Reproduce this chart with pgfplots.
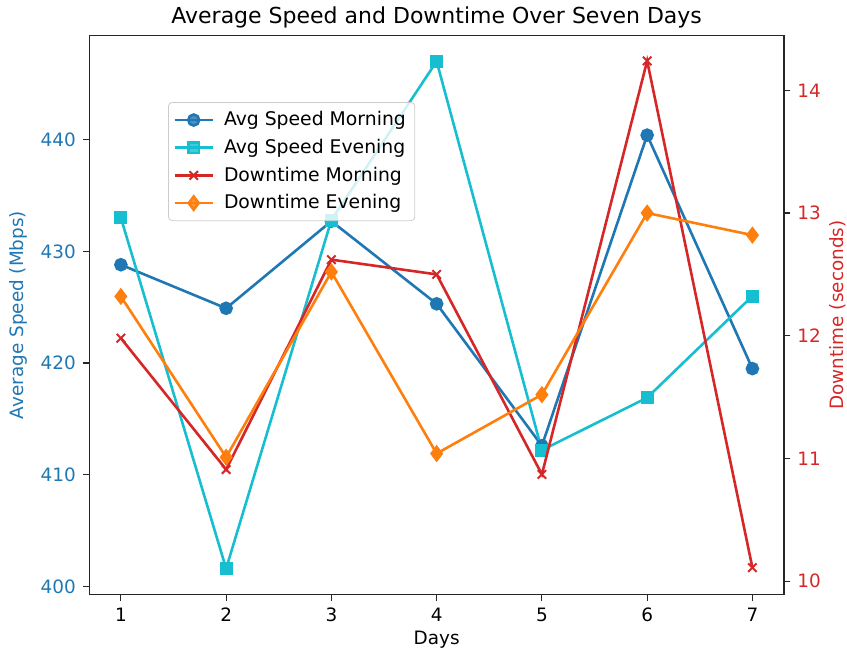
\documentclass[border=0pt]{standalone}
\usepackage{fontspec}
\setmainfont{DejaVu Sans}
\usepackage{pgfplots}
\pgfplotsset{compat=1.18}
\definecolor{tabblue}{HTML}{1F77B4}
\definecolor{tabcyan}{HTML}{17BECF}
\definecolor{tabred}{HTML}{D62728}
\definecolor{taborange}{HTML}{FF7F0E}
\begin{document}
\begin{tikzpicture}
\useasboundingbox (-44.65pt,-29.85pt) rectangle (378.85pt,297.15pt);
\pgfplotsset{
  common/.style={
    at={(0,0)}, anchor=south west,
    scale only axis, width=347.35pt, height=279.3pt,
    xmin=0.7, xmax=7.3,
    tick align=outside, major tick length=3.2pt,
    /pgf/number format/assume math mode=true,
    tick label style={font=\fontsize{9.2}{11}\selectfont},
    label style={font=\fontsize{9.2}{11}\selectfont},
    axis line style={line width=0.6pt, black!85},
    every tick/.style={black!85, line width=0.6pt},
  }
}
\begin{axis}[common,
  ymin=399.3, ymax=449.3,
  xtick={1,2,3,4,5,6,7},
  ytick={400,410,420,430,440},
  xtick pos=bottom, ytick pos=left,
  yticklabel style={text=tabblue},
  xlabel={Days},
  xlabel style={at={(axis description cs:0.5,-0.082)}, anchor=center},
  ylabel={Average Speed (Mbps)},
  ylabel style={at={(axis description cs:-0.1026,0.5)}, anchor=center, text=tabblue},
  every axis title shift=0pt,
  title={Average Speed and Downtime Over Seven Days},
  title style={at={(axis description cs:0.5,1)}, anchor=center, yshift=9.3pt, font=\fontsize{11}{13}\selectfont},
]
\addplot[tabblue, line width=1.3pt, mark=*, mark size=2.75pt] coordinates {
  (1,428.8) (2,424.9) (3,432.7) (4,425.3) (5,412.6) (6,440.4) (7,419.5)};
\addplot[tabcyan, line width=1.3pt, mark=square*, mark size=2.6pt] coordinates {
  (1,433.0) (2,401.6) (3,432.8) (4,447.0) (5,412.2) (6,416.9) (7,426.0)};
\end{axis}
\begin{axis}[common,
  ymin=9.893, ymax=14.445,
  axis x line=none, axis y line*=right,
  ytick={10,11,12,13,14},
  ytick pos=right,
  yticklabel style={text=tabred},
  ylabel={Downtime (seconds)},
  ylabel style={at={(axis description cs:1.0777,0.5)}, anchor=center, text=tabred},
  legend style={at={(0.1133,0.8813)}, anchor=north west,
    font=\fontsize{9.4}{11}\selectfont,
    draw=black!20, rounded corners=2pt, fill=white, fill opacity=0.8, text opacity=1,
    row sep=1.2pt, inner sep=2.5pt,
    /tikz/every odd column/.append style={column sep=3pt}},
  legend cell align=left,
  legend image code/.code={\draw[mark repeat=2,mark phase=2] plot coordinates {(0pt,0pt) (9.5pt,0pt) (19pt,0pt)};},
]
\addlegendimage{tabblue, line width=1.3pt, mark=*, mark size=2.75pt}
\addlegendentry{Avg Speed Morning}
\addlegendimage{tabcyan, line width=1.3pt, mark=square*, mark size=2.6pt}
\addlegendentry{Avg Speed Evening}
\addplot[tabred, line width=1.3pt, mark=x, mark size=3pt, mark options={line width=1pt}] coordinates {
  (1,11.98) (2,10.91) (3,12.62) (4,12.50) (5,10.87) (6,14.24) (7,10.11)};
\addlegendentry{Downtime Morning}
\addplot[taborange, line width=1.3pt, mark=diamond*, mark size=3.3pt] coordinates {
  (1,12.32) (2,11.01) (3,12.52) (4,11.04) (5,11.52) (6,13.00) (7,12.82)};
\addlegendentry{Downtime Evening}
\end{axis}
\end{tikzpicture}
\end{document}
